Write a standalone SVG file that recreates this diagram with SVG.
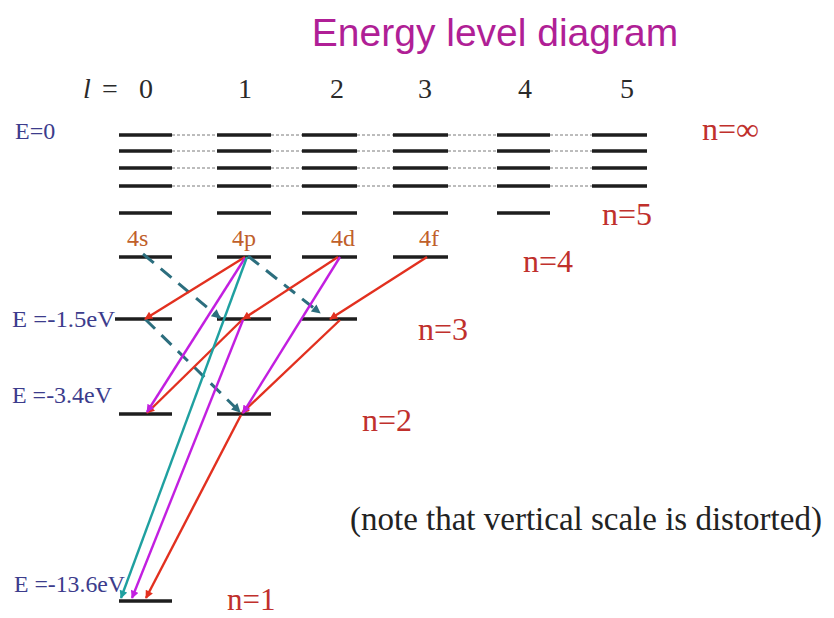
<svg xmlns="http://www.w3.org/2000/svg" width="834" height="618" viewBox="0 0 834 618">
<style>
.bar{stroke:#1e1e1e;stroke-width:3.5;fill:none}
.dot{stroke:#7a7a7a;stroke-width:1;stroke-dasharray:3 2;fill:none}
.title{font-family:"Liberation Sans",Arial,sans-serif;font-size:39px;fill:#b01f96}
.num{font-family:"Liberation Serif","Times New Roman",serif;font-size:28px;fill:#2a2a2a}
.en{font-family:"Liberation Serif","Times New Roman",serif;font-size:24px;fill:#3c3c8c}
.nl{font-family:"Liberation Serif","Times New Roman",serif;font-size:32px;fill:#c0302c}
.orb{font-family:"Liberation Serif","Times New Roman",serif;font-size:24px;fill:#c0602a}
.note{font-family:"Liberation Serif","Times New Roman",serif;font-size:33px;fill:#222}
.red{stroke:#e2301f;stroke-width:2.4;fill:none;marker-end:url(#aR)}
.mag{stroke:#c21fe0;stroke-width:2.4;fill:none;marker-end:url(#aM)}
.teal{stroke:#1fa0a0;stroke-width:2.4;fill:none;marker-end:url(#aT)}
.dash{stroke:#2c6e7e;stroke-width:3;stroke-dasharray:14 9;fill:none;marker-end:url(#aD)}
</style>
<defs>
<marker id="aR" viewBox="0 0 10 10" refX="9" refY="5" markerWidth="10" markerHeight="8" markerUnits="userSpaceOnUse" orient="auto"><path d="M0,0 L10,5 L0,10 z" fill="#e2301f"/></marker>
<marker id="aM" viewBox="0 0 10 10" refX="9" refY="5" markerWidth="10" markerHeight="8" markerUnits="userSpaceOnUse" orient="auto"><path d="M0,0 L10,5 L0,10 z" fill="#c21fe0"/></marker>
<marker id="aT" viewBox="0 0 10 10" refX="9" refY="5" markerWidth="10" markerHeight="8" markerUnits="userSpaceOnUse" orient="auto"><path d="M0,0 L10,5 L0,10 z" fill="#1fa0a0"/></marker>
<marker id="aD" viewBox="0 0 10 10" refX="9" refY="5" markerWidth="11" markerHeight="9" markerUnits="userSpaceOnUse" orient="auto"><path d="M0,0 L10,5 L0,10 z" fill="#2c6e7e"/></marker>
</defs>
<rect width="834" height="618" fill="#fff"/>
<text class="title" x="495" y="46" text-anchor="middle">Energy level diagram</text>
<g id="l-axis">
<text class="num" x="83" y="98" font-style="italic">l</text>
<text class="num" x="102" y="98">=</text>
<text class="num" x="146" y="98" text-anchor="middle">0</text>
<text class="num" x="245" y="98" text-anchor="middle">1</text>
<text class="num" x="337" y="98" text-anchor="middle">2</text>
<text class="num" x="425" y="98" text-anchor="middle">3</text>
<text class="num" x="525" y="98" text-anchor="middle">4</text>
<text class="num" x="627" y="98" text-anchor="middle">5</text>
</g>
<g id="continuum">
<text class="en" x="15" y="139">E=0</text>
<text class="nl" x="702" y="140">n=∞</text>
<path class="bar" d="M119,135H172M217,135H271M302,135H357M393,135H448M497,135H550M592,135H647M119,151H172M217,151H271M302,151H357M393,151H448M497,151H550M592,151H647M119,168H172M217,168H271M302,168H357M393,168H448M497,168H550M592,168H647M119,186H172M217,186H271M302,186H357M393,186H448M497,186H550M592,186H647"/>
<path class="dot" d="M172,135H217M271,135H302M357,135H393M448,135H497M550,135H592M172,151H217M271,151H302M357,151H393M448,151H497M550,151H592M172,168H217M271,168H302M357,168H393M448,168H497M550,168H592M172,186H217M271,186H302M357,186H393M448,186H497M550,186H592"/>
</g>
<g id="n5">
<path class="bar" d="M119,213H172M217,213H271M302,213H357M393,213H448M497,213H550"/>
<text class="nl" x="602" y="225">n=5</text>
</g>
<g id="n4">
<text class="nl" x="523" y="272">n=4</text>
<g id="4s"><path class="bar" d="M119,257H172"/><text class="orb" x="127" y="246">4s</text></g>
<g id="4p"><path class="bar" d="M217,257H271"/><text class="orb" x="232" y="246">4p</text></g>
<g id="4d"><path class="bar" d="M302,257H357"/><text class="orb" x="331" y="246">4d</text></g>
<g id="4f"><path class="bar" d="M393,257H448"/><text class="orb" x="419" y="246">4f</text></g>
</g>
<g id="n3">
<text class="en" x="12" y="327" textLength="103" lengthAdjust="spacingAndGlyphs">E =-1.5eV</text>
<text class="nl" x="418" y="340">n=3</text>
<g id="3s"><path class="bar" d="M115,319H172"/></g>
<g id="3p"><path class="bar" d="M217,319H271"/></g>
<g id="3d"><path class="bar" d="M302,319H357"/></g>
</g>
<g id="n2">
<text class="en" x="12" y="403" textLength="100" lengthAdjust="spacingAndGlyphs">E =-3.4eV</text>
<text class="nl" x="362" y="431">n=2</text>
<g id="2s"><path class="bar" d="M119,414H172"/></g>
<g id="2p"><path class="bar" d="M217,414H271"/></g>
</g>
<g id="n1">
<text class="en" x="14" y="592" textLength="111" lengthAdjust="spacingAndGlyphs">E =-13.6eV</text>
<text class="nl" x="227" y="610" style="font-size:31px">n=1</text>
<g id="1s"><path class="bar" d="M119,601H172"/></g>
</g>
<text class="note" x="350" y="530">(note that vertical scale is distorted)</text>
<g id="connectors">
<line class="dash" x1="143" y1="254" x2="220" y2="318"/>
<line class="dash" x1="248" y1="256" x2="320" y2="313"/>
<line class="dash" x1="145" y1="319" x2="240" y2="412"/>
<line class="red" x1="245" y1="257" x2="145" y2="319"/>
<line class="red" x1="338" y1="257" x2="243" y2="319"/>
<line class="red" x1="243" y1="319" x2="147" y2="413"/>
<line class="red" x1="427" y1="257" x2="330" y2="319"/>
<line class="red" x1="340" y1="320" x2="242" y2="413"/>
<line class="red" x1="241" y1="415" x2="146" y2="598"/>
<line class="mag" x1="245" y1="258" x2="147" y2="412"/>
<line class="mag" x1="340" y1="257" x2="243" y2="413"/>
<line class="mag" x1="243" y1="320" x2="132" y2="598"/>
<line class="teal" x1="247" y1="257" x2="121" y2="598"/>
</g>
</svg>
